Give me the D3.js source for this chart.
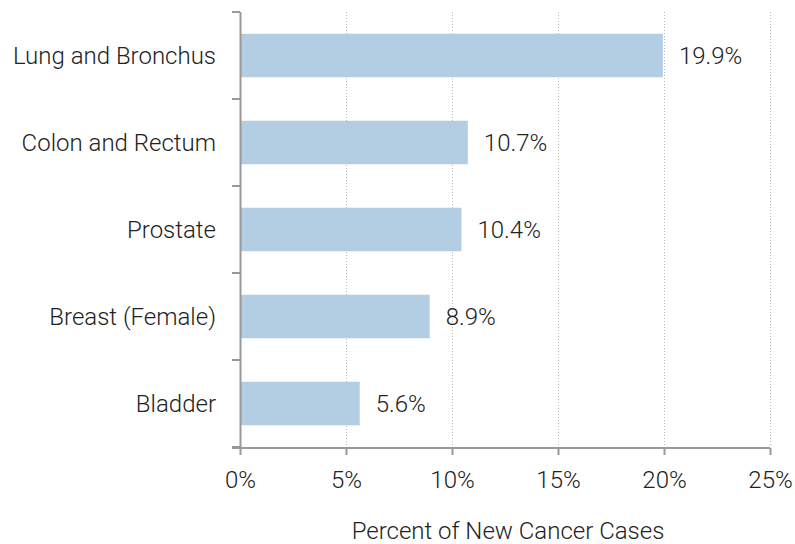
<!DOCTYPE html>
<html>
<head>
<meta charset="utf-8">
<script src="https://cdn.jsdelivr.net/npm/d3@7"></script>
<style>
  body { margin: 0; background: #fff; }
  text { font-family: Roboto, "Liberation Sans", Arial, sans-serif; font-weight: 300; fill: #222; }
</style>
</head>
<body>
<div class="chart"></div>
<script>
var categories = ["Lung and Bronchus", "Colon and Rectum", "Prostate", "Breast (Female)", "Bladder"];
var percents = [19.9, 10.7, 10.4, 8.9, 5.6];
var xTicks = [0, 5, 10, 15, 20, 25];
var xTitle = "Percent of New Cancer Cases";

var W = 795, H = 544;
var FONT = "24px";
var margin = { top: 12, right: 25, bottom: 97, left: 240 },
    width = W - margin.left - margin.right,
    height = H - margin.top - margin.bottom;

var svg = d3.select(".chart").append("svg")
    .attr("width", W)
    .attr("height", H)
    .append("g")
    .attr("transform", "translate(" + margin.left + "," + margin.top + ")");

var data = categories.map(function(c, i) { return { name: c, value: percents[i] }; });

var x = d3.scaleLinear().domain([0, 25]).range([0, width]);
var y = d3.scaleBand().domain(categories).range([0, height])
    .paddingInner(0.5).paddingOuter(0.25);

// dotted gridlines
svg.selectAll(".grid")
    .data(xTicks.slice(1))
    .enter().append("line")
    .attr("x1", function(d) { return x(d) + 0.5; })
    .attr("x2", function(d) { return x(d) + 0.5; })
    .attr("y1", 0)
    .attr("y2", height)
    .attr("stroke", "#bbb")
    .attr("stroke-width", 1)
    .attr("stroke-dasharray", "1,2");

svg.selectAll(".bar")
    .data(data)
    .enter().append("rect")
    .attr("x", x(0) + 1)
    .attr("y", function(d) { return y(d.name); })
    .attr("width", function(d) { return x(d.value) - x(0); })
    .attr("height", y.bandwidth())
    .attr("fill", "#b3cde3");

svg.selectAll(".val")
    .data(data)
    .enter().append("text")
    .attr("x", function(d) { return x(d.value) + 17; })
    .attr("y", function(d) { return y(d.name) + y.bandwidth() / 2; })
    .attr("dy", "0.35em")
    .style("font-size", FONT)
    .text(function(d) { return d.value.toFixed(1) + "%"; });

// y axis: ticks at band boundaries
var step = y.step();
var boundaries = d3.range(categories.length + 1).map(function(i) { return i * step; });

var yAxis = svg.append("g");
yAxis.append("line")
    .attr("x1", 0.5).attr("x2", 0.5)
    .attr("y1", 0).attr("y2", height)
    .attr("stroke", "#999").attr("stroke-width", 2);
yAxis.selectAll(".ytick")
    .data(boundaries)
    .enter().append("line")
    .attr("x1", -8).attr("x2", 0)
    .attr("y1", function(d) { return d; })
    .attr("y2", function(d) { return d; })
    .attr("stroke", "#999").attr("stroke-width", 2);
yAxis.selectAll(".ylab")
    .data(categories)
    .enter().append("text")
    .attr("x", -24)
    .attr("y", function(d) { return y(d) + y.bandwidth() / 2; })
    .attr("dy", "0.35em")
    .attr("text-anchor", "end")
    .style("font-size", FONT)
    .text(function(d) { return d; });

// x axis
var xAxis = svg.append("g")
    .attr("transform", "translate(0," + (height + 1) + ")")
    .call(d3.axisBottom(x).tickValues(xTicks).tickSize(7).tickPadding(16)
        .tickFormat(function(d) { return d + "%"; }));
xAxis.select(".domain").remove();
xAxis.insert("line", ":first-child")
    .attr("x1", -8).attr("x2", width)
    .attr("stroke", "#999").attr("stroke-width", 2);
xAxis.selectAll(".tick line").attr("stroke", "#999").attr("stroke-width", 2);
xAxis.selectAll(".tick text")
    .style("font-size", FONT)
    .style("font-family", "Roboto, 'Liberation Sans', Arial, sans-serif")
    .style("font-weight", 300)
    .attr("fill", "#222");

svg.append("text")
    .attr("x", width / 2 + 3)
    .attr("y", height + 92)
    .attr("text-anchor", "middle")
    .style("font-size", FONT)
    .text(xTitle);
</script>
</body>
</html>
